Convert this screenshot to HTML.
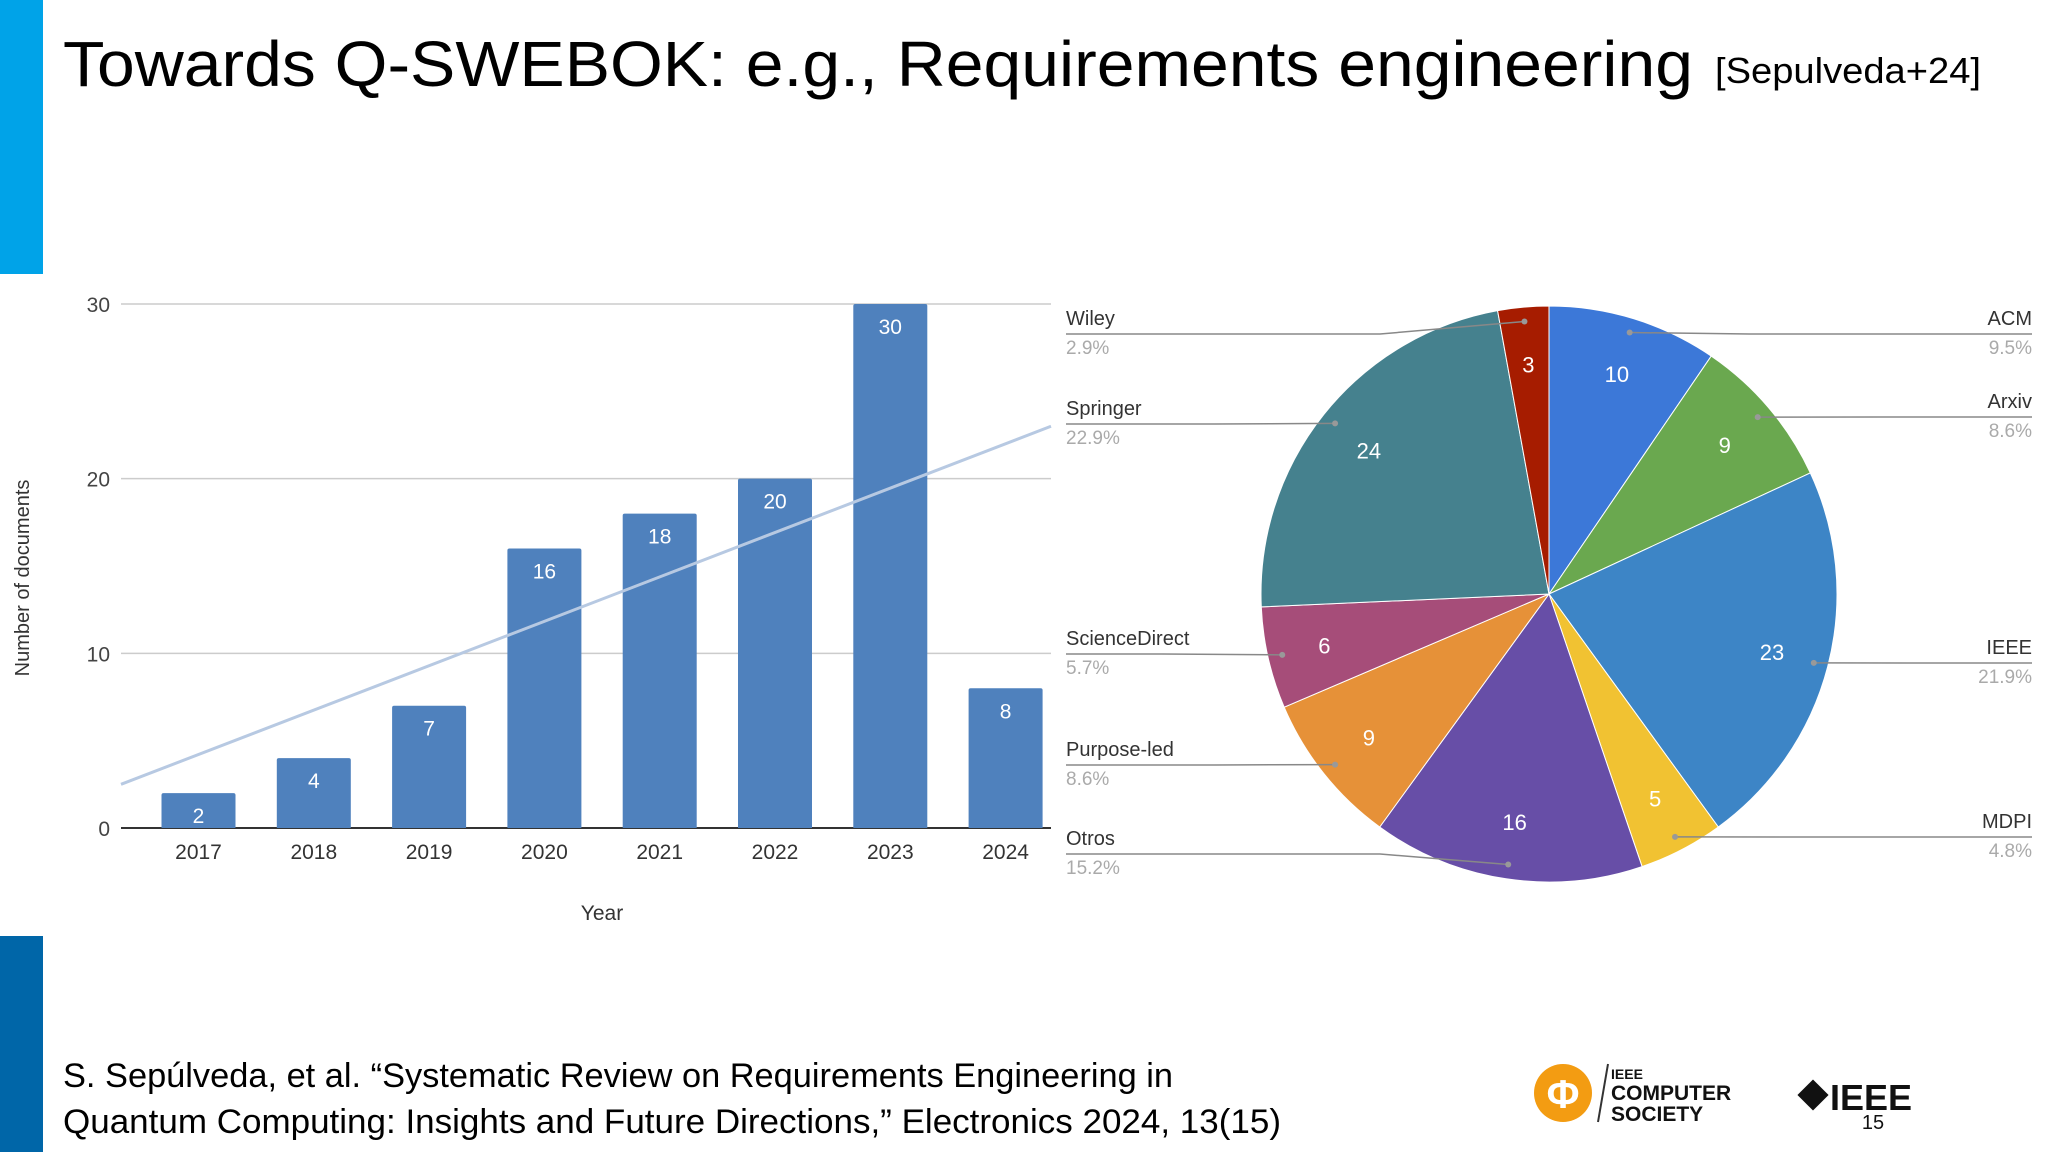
<!DOCTYPE html>
<html><head><meta charset="utf-8"><style>
html,body{margin:0;padding:0;background:#fff;}
svg{display:block;font-family:"Liberation Sans",sans-serif;}
</style></head><body>
<svg id="s" width="2048" height="1152" viewBox="0 0 2048 1152">
<rect x="0" y="0" width="43" height="274" fill="#00a3e8"/>
<rect x="0" y="936" width="43" height="216" fill="#0066a8"/>
<text x="63" y="86" font-size="64" fill="#000" textLength="1630" lengthAdjust="spacingAndGlyphs">Towards Q-SWEBOK: e.g., Requirements engineering</text>
<text x="1715" y="83" font-size="36" fill="#000" textLength="266" lengthAdjust="spacingAndGlyphs">[Sepulveda+24]</text>
<g id="bar"></g>
<g id="pie"></g>
<text x="63" y="1087" font-size="34" fill="#000" textLength="1110" lengthAdjust="spacingAndGlyphs">S. Sepúlveda, et al. “Systematic Review on Requirements Engineering in</text>
<text x="63" y="1133" font-size="34" fill="#000" textLength="1218" lengthAdjust="spacingAndGlyphs">Quantum Computing: Insights and Future Directions,” Electronics 2024, 13(15)</text>
<g>
<circle cx="1563" cy="1093" r="29" fill="#f39c12"/>
<text x="1563" y="1108" font-size="40" fill="#fff" text-anchor="middle" font-weight="bold">Φ</text>
<line x1="1598" y1="1122" x2="1608" y2="1064" stroke="#333" stroke-width="2"/>
<text x="1611" y="1079" font-size="14" font-weight="bold" fill="#111">IEEE</text>
<text x="1611" y="1100" font-size="21" font-weight="bold" fill="#111">COMPUTER</text>
<text x="1611" y="1121" font-size="21" font-weight="bold" fill="#111">SOCIETY</text>
</g>
<g>
<rect x="1802" y="1084" width="22" height="22" fill="#111" transform="rotate(45 1813 1095)"/>
<text x="1830" y="1110" font-size="36" font-weight="bold" fill="#111">IEEE</text>
<text x="1873" y="1129" font-size="20" fill="#111" text-anchor="middle">15</text>
</g>
</svg>
<script>
const years = ["2017","2018","2019","2020","2021","2022","2023","2024"];
const docs = [2,4,7,16,18,20,30,8];
const yTicks = [0,10,20,30];
const trendStart = 2.5, trendEnd = 23;
const pieLabels = ["ACM","Arxiv","IEEE","MDPI","Otros","Purpose-led","ScienceDirect","Springer","Wiley"];
const pieValues = [10,9,23,5,16,9,6,24,3];
const piePct = ["9.5%","8.6%","21.9%","4.8%","15.2%","8.6%","5.7%","22.9%","2.9%"];
const pieColors = ["#3c78d8","#6aa84f","#3d85c6","#f1c232","#674ea7","#e69138","#a64d79","#45818e","#a61c00"];
const pieLabelY = [318,401,647,821,838,749,638,408,318];

const NS="http://www.w3.org/2000/svg";
function mk(parent,tag,attrs,txt){const e=document.createElementNS(NS,tag);for(const k in attrs)e.setAttribute(k,attrs[k]);if(txt!==undefined)e.textContent=txt;parent.appendChild(e);return e;}
const bar=document.getElementById('bar');
const X0=121,X1=1051,Y0=828,Y30=304;
const yS=v=>Y0-(Y0-Y30)*v/30;
const step=115.3, bw=74;
const xS=i=>198.5+i*step;
yTicks.forEach(t=>{
  const g=mk(bar,'line',{x1:X0,x2:X1,y1:yS(t),y2:yS(t),stroke:t===0?'#333':'#ccc','stroke-width':t===0?2:1.5});
  
  
  const l=mk(bar,'text',{x:110,y:yS(t)+8,'font-size':21,fill:'#444','text-anchor':'end'},String(t));
  
  
});
docs.forEach((v,i)=>{
  const r=mk(bar,'path',{d:`M${xS(i)-bw/2},${Y0} V${yS(v)+2} q0,-2 2,-2 H${xS(i)+bw/2-2} q2,0 2,2 V${Y0} Z`,fill:'#4f81bd'});
  
  
  const t=mk(bar,'text',{x:xS(i),y:yS(v)+30,'font-size':21,fill:'#fff','text-anchor':'middle'},String(v));
  
  
  const xl=mk(bar,'text',{x:xS(i),y:859,'font-size':21,fill:'#333','text-anchor':'middle'},years[i]);
  
  
});
const tr=mk(bar,'line',{x1:X0,y1:yS(trendStart),x2:X1,y2:yS(trendEnd),stroke:'#b7c9e2','stroke-width':3});


const xt=mk(bar,'text',{x:602,y:920,'font-size':21,fill:'#333','text-anchor':'middle'},'Year');


const yt=mk(bar,'text',{x:0,y:0,'font-size':20,fill:'#333','text-anchor':'middle',transform:'translate(29,578) rotate(-90)'},'Number of documents');



const pie=document.getElementById('pie');
const cx=1549,cy=594,R=288;
const total=pieValues.reduce((a,b)=>a+b,0);
const pt=(a,r)=>[cx+r*Math.sin(a),cy-r*Math.cos(a)];
let a0=0;
const mids=[];
pieValues.forEach((v,i)=>{
  const a1=a0+v/total*2*Math.PI;
  const p0=pt(a0,R),p1=pt(a1,R);
  const s=mk(pie,'path',{d:`M${cx},${cy} L${p0[0]},${p0[1]} A${R},${R} 0 ${a1-a0>Math.PI?1:0} 1 ${p1[0]},${p1[1]} Z`,fill:pieColors[i],stroke:'#fff','stroke-width':1});
  
  
  const m=(a0+a1)/2; mids.push(m);
  const lp=pt(m,R*0.8);
  const t=mk(pie,'text',{x:lp[0],y:lp[1]+8,'font-size':22,fill:'#fff','text-anchor':'middle'},String(v));
  
  
  a0=a1;
});
pieValues.forEach((v,i)=>{
  const m=mids[i];
  const right=Math.sin(m)>0;
  const d=pt(m,R*0.95);
  const ly=pieLabelY[i]+16;
  const ex=right?2032:1066;
  const bx=right?Math.max(d[0]+120,1700):Math.min(d[0]-120,1380);
  const ln=mk(pie,'polyline',{points:`${ex},${ly} ${bx},${ly} ${d[0]},${d[1]}`,fill:'none',stroke:'#888','stroke-width':1.5});
  
  
  mk(pie,'circle',{cx:d[0],cy:d[1],r:3,fill:'#999'});
  const nm=mk(pie,'text',{x:ex,y:pieLabelY[i]+7,'font-size':20,fill:'#333','text-anchor':right?'end':'start'},pieLabels[i]);
  
  
  const pc=mk(pie,'text',{x:ex,y:pieLabelY[i]+36,'font-size':19,fill:'#aaa','text-anchor':right?'end':'start'},piePct[i]);
  
  
});
</script>
</body></html>
